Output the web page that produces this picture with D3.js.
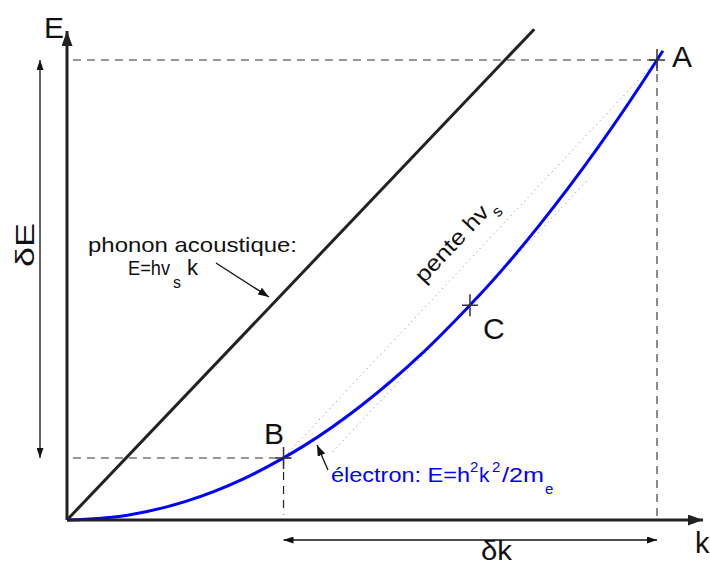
<!DOCTYPE html>
<html><head><meta charset="utf-8">
<script src="https://cdn.jsdelivr.net/npm/d3@7"></script>
<style>body{margin:0;background:#fff}svg{display:block}</style>
</head><body>
<script>
// ---- data (units: k and E normalised to point A) ----
const electronK = [0, 0.1, 0.2, 0.3, 0.367, 0.4, 0.5, 0.6, 0.683, 0.7, 0.8, 0.9, 1.0, 1.01];
const electronE = [0, 0.01, 0.04, 0.09, 0.135, 0.16, 0.25, 0.36, 0.467, 0.49, 0.64, 0.81, 1.0, 1.02];
const phononK = [0, 0.792];
const phononE = [0, 1.067];
const pointNames = ["A", "B", "C"];
const pointK = [1.0, 0.367, 0.683];
const pointE = [1.0, 0.135, 0.467];
const chordK = [0.375, 0.99];
const chordE = [0.146, 0.986];
const tangentK = [0.45, 0.885];
const tangentE = [0.148, 0.743];
const axisMax = {k: 1.078, E: 1.063};

const W = 710, H = 565;
const FONT = "'Liberation Sans', Arial, Helvetica, sans-serif";
const svg = d3.select("body").append("svg").attr("width", W).attr("height", H)
  .style("font-family", FONT);

const x = d3.scaleLinear().domain([0, 1]).range([67, 657]);
const y = d3.scaleLinear().domain([0, 1]).range([520, 60]);

const defs = svg.append("defs");
function marker(id, len, half, color) {
  defs.append("marker").attr("id", id)
    .attr("viewBox", `0 ${-half} ${len} ${2 * half}`)
    .attr("refX", len).attr("refY", 0)
    .attr("markerWidth", len).attr("markerHeight", 2 * half)
    .attr("markerUnits", "userSpaceOnUse").attr("orient", "auto-start-reverse")
    .append("path").attr("d", `M0,${-half}L${len},0L0,${half}Z`).attr("fill", color);
}
marker("axisArrow", 15, 5.5, "#222");
marker("dimArrow", 10, 3.5, "#111");
marker("noteArrow", 11, 4, "#111");

const line = d3.line().x(d => x(d[0])).y(d => y(d[1]));

// dashed guide lines
const A = [pointK[0], pointE[0]], B = [pointK[1], pointE[1]], C = [pointK[2], pointE[2]];
svg.append("path").attr("d", line([[0.01, A[1]], A])).attr("stroke", "#777")
  .attr("stroke-width", 1.5).attr("stroke-dasharray", "8,6").attr("fill", "none");
svg.append("path").attr("d", line([A, [A[0], 0]])).attr("stroke", "#666")
  .attr("stroke-width", 1.5).attr("stroke-dasharray", "8,6").attr("fill", "none");
svg.append("path").attr("d", line([[0.01, B[1]], [B[0] + 0.012, B[1]]])).attr("stroke", "#777")
  .attr("stroke-width", 1.5).attr("stroke-dasharray", "8,6").attr("fill", "none");
svg.append("path").attr("d", line([B, [B[0], 0.012]])).attr("stroke", "#222")
  .attr("stroke-width", 1.2).attr("stroke-dasharray", "8,6").attr("fill", "none");

// dotted chord and tangent
svg.append("path").attr("d", line(chordK.map((k, i) => [k, chordE[i]])))
  .attr("stroke", "#888").attr("stroke-width", 1).attr("stroke-dasharray", "1,4").attr("fill", "none");
svg.append("path").attr("d", line(tangentK.map((k, i) => [k, tangentE[i]])))
  .attr("stroke", "#888").attr("stroke-width", 1).attr("stroke-dasharray", "1,4").attr("fill", "none");

// phonon line
svg.append("path").attr("d", line(phononK.map((k, i) => [k, phononE[i]])))
  .attr("stroke", "#222").attr("stroke-width", 3).attr("fill", "none");

// electron curve
svg.append("path")
  .attr("d", d3.line().x(d => x(d[0])).y(d => y(d[1])).curve(d3.curveMonotoneX)(electronK.map((k, i) => [k, electronE[i]])))
  .attr("stroke", "#0000ff").attr("stroke-width", 3).attr("fill", "none");

// axes
svg.append("path").attr("d", line([[0, 0], [0, axisMax.E]])).attr("stroke", "#222")
  .attr("stroke-width", 3).attr("marker-end", "url(#axisArrow)");
svg.append("path").attr("d", line([[0, 0], [axisMax.k, 0]])).attr("stroke", "#222")
  .attr("stroke-width", 3).attr("marker-end", "url(#axisArrow)");

// point crosses
pointNames.forEach((n, i) => {
  const px = x(pointK[i]), py = y(pointE[i]);
  svg.append("path").attr("d", `M${px - 8},${py}H${px + 8}M${px},${py - 11}V${py + 11}`)
    .attr("stroke", "#333").attr("stroke-width", 1.5);
});

// dimension arrows
svg.append("line").attr("x1", 40).attr("x2", 40).attr("y1", y(B[1])).attr("y2", y(A[1]))
  .attr("stroke", "#111").attr("stroke-width", 1.3)
  .attr("marker-start", "url(#dimArrow)").attr("marker-end", "url(#dimArrow)");
svg.append("line").attr("y1", 540).attr("y2", 540).attr("x1", x(B[0])).attr("x2", x(A[0]))
  .attr("stroke", "#111").attr("stroke-width", 1.3)
  .attr("marker-start", "url(#dimArrow)").attr("marker-end", "url(#dimArrow)");

// annotation arrows
svg.append("line").attr("x1", 216).attr("y1", 263).attr("x2", 269).attr("y2", 297)
  .attr("stroke", "#111").attr("stroke-width", 1.3).attr("marker-end", "url(#noteArrow)");
svg.append("line").attr("x1", 328).attr("y1", 470).attr("x2", 317).attr("y2", 445)
  .attr("stroke", "#111").attr("stroke-width", 1.3).attr("marker-end", "url(#noteArrow)");

// text helper
function txt(s, px, py, size, len, color, g) {
  const t = (g || svg).append("text").attr("x", px).attr("y", py).attr("font-size", size)
    .attr("fill", color || "#111").text(s);
  if (len) t.attr("textLength", len).attr("lengthAdjust", "spacingAndGlyphs");
  return t;
}

// axis labels & point labels
txt("E", 44, 38, 30);
txt("k", 695, 553, 29);
txt("A", 672, 67, 30);
txt("B", 264, 444, 30);
txt("C", 483, 339, 30);
txt("δk", 481, 560, 28, 31);
svg.append("text").attr("transform", "translate(34,267) rotate(-90)")
  .attr("font-size", 26).attr("fill", "#111").attr("textLength", 44)
  .attr("lengthAdjust", "spacingAndGlyphs").text("δE");

// phonon label
txt("E=hv", 128, 275, 21, 42);
txt("s", 173, 288, 16);
txt("k", 187, 275, 22);
txt("phonon acoustique:", 88, 252, 21, 209);

// electron label
const blue = "#0000ff";
txt("électron: E=h", 331, 482, 21, 139, blue);
txt("2", 470, 472, 15, null, blue);
txt("k", 479, 482, 21, null, blue);
txt("2", 492, 472, 15, null, blue);
txt("/2m", 502, 482, 21, 42, blue);
txt("e", 545, 494, 15, null, blue);

// pente label (rotated along chord)
const ang = -Math.atan2(y(0) - y(1.367), x(1) - x(0)) * 180 / Math.PI;
const gp = svg.append("g").attr("transform", `translate(424,284) rotate(${ang})`);
txt("pente hv", 0, 0, 22, 97, "#111", gp);
txt("s", 99, 9, 16, null, "#111", gp);
</script>
</body></html>
